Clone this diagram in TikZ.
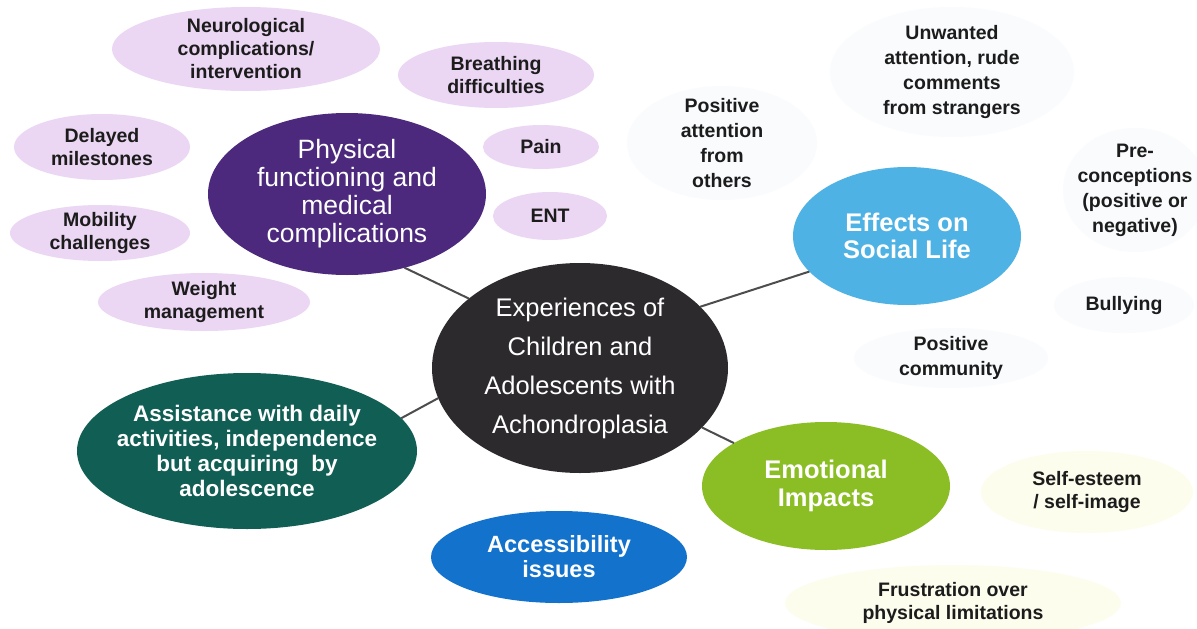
\documentclass[tikz,border=0pt]{standalone}
\usepackage{fontspec}
\setmainfont{Liberation Sans}
\usetikzlibrary{shapes.geometric}

\definecolor{hubgrey}{RGB}{44,42,45}
\definecolor{physpurple}{RGB}{76,41,125}
\definecolor{lavender}{RGB}{235,214,243}
\definecolor{socialsky}{RGB}{79,178,228}
\definecolor{emogreen}{RGB}{139,190,36}
\definecolor{accessblue}{RGB}{18,114,204}
\definecolor{assistteal}{RGB}{16,94,84}
\definecolor{paleblue}{RGB}{249,251,253}
\definecolor{paleyellow}{RGB}{253,253,237}
\definecolor{inkdark}{RGB}{28,28,28}
\definecolor{linkgrey}{RGB}{77,77,77}

\begin{document}
\begin{tikzpicture}[x=1pt,y=-1pt,
  blob/.style={ellipse, inner sep=0pt, outer sep=0pt, draw=none},
  radii/.style 2 args={minimum width=2*#1, minimum height=2*#2},
  lbl/.style={align=center, inner sep=0pt},
  smalltxt/.style={lbl, text=inkdark, font=\fontsize{19.5}{23}\selectfont\bfseries},
  socialtxt/.style={lbl, text=inkdark, font=\fontsize{19.5}{25}\selectfont\bfseries},
  hubtxt/.style={lbl, text=white, font=\fontsize{25.5}{39}\selectfont},
  phystxt/.style={lbl, text=white, font=\fontsize{26.5}{28}\selectfont},
  themetxt/.style={lbl, text=white, font=\fontsize{25.5}{27.5}\selectfont\bfseries},
  accesstxt/.style={lbl, text=white, font=\fontsize{23.5}{25}\selectfont\bfseries},
  assisttxt/.style={lbl, text=white, font=\fontsize{22.5}{25.3}\selectfont\bfseries},
  link/.style={draw=linkgrey, line width=2pt}
]
\useasboundingbox[fill=white] (0,0) rectangle (1197,629);

% pale satellite bubbles around the social theme
\node[blob, fill=paleblue, radii={95}{57}, label={[socialtxt]center:{Positive\\attention\\from\\others}}] (posatt) at (722,143) {};
\node[blob, fill=paleblue, radii={122}{65}, label={[socialtxt]center:{Unwanted\\attention, rude\\comments\\from strangers}}] (unwanted) at (952,72) {};
\node[blob, fill=paleblue, radii={72}{62}, label={[socialtxt]center:{Pre-\\conceptions\\(positive or\\negative)}}] (precon) at (1135,190) {};
\node[blob, fill=paleblue, radii={70}{28}, label={[socialtxt]center:{Bullying}}] (bully) at (1124,305) {};
\node[blob, fill=paleblue, radii={97}{30}, label={[socialtxt]center:{Positive\\community}}] (poscomm) at (951,358) {};

% pale satellite bubbles around the emotional theme
\node[blob, fill=paleyellow, radii={106}{41}, label={[smalltxt]center:{Self-esteem\\/ self-image}}] (selfest) at (1087,492) {};
\node[blob, fill=paleyellow, radii={168}{38}, label={[smalltxt]center:{Frustration over\\physical limitations}}] (frustr) at (953,603) {};

% lavender bubbles around the physical theme
\node[blob, fill=lavender, radii={134}{42}, label={[smalltxt]center:{Neurological\\complications/\\intervention}}] (neuro) at (246,49) {};
\node[blob, fill=lavender, radii={98}{33}, label={[smalltxt]center:{Breathing\\difficulties}}] (breath) at (496,75) {};
\node[blob, fill=lavender, radii={88}{33}, label={[smalltxt]center:{Delayed\\milestones}}] (delayed) at (102,147) {};
\node[blob, fill=lavender, radii={58}{22}, label={[smalltxt]center:{Pain}}] (pain) at (541,147) {};
\node[blob, fill=lavender, radii={57}{24}, label={[smalltxt]center:{ENT}}] (ent) at (550,216) {};
\node[blob, fill=lavender, radii={90}{28}, label={[smalltxt]center:{Mobility\\challenges}}] (mobility) at (100,233) {};
\node[blob, fill=lavender, radii={106}{29}, label={[smalltxt]center:{Weight\\management}}] (weight) at (204,302) {};

% theme bubbles
\node[blob, fill=physpurple, radii={139}{81}, label={[phystxt]center:{Physical\\functioning and\\medical\\complications}}] (phys) at (347,194) {};
\node[blob, fill=socialsky, radii={114}{69}, label={[themetxt]center:{Effects on\\Social Life}}] (social) at (907,236) {};
\node[blob, fill=emogreen, radii={124}{64}, label={[themetxt]center:{Emotional\\Impacts}}] (emotion) at (826,486) {};
\node[blob, fill=accessblue, radii={128}{46}, label={[accesstxt]center:{Accessibility\\issues}}] (access) at (559,557) {};
\node[blob, fill=assistteal, radii={170}{78}, label={[assisttxt]center:{Assistance with daily\\activities, independence\\but acquiring\ \ by\\adolescence}}] (assist) at (247,451) {};

% central hub
\node[blob, fill=hubgrey, radii={148}{105}, label={[hubtxt]center:{Experiences of\\Children and\\Adolescents with\\Achondroplasia}}] (hub) at (580,368) {};

% spokes from the hub to the themes
\draw[link] (phys.-52) -- (hub.148);
\draw[link] (social.-160.6) -- (hub.27.3);
\draw[link] (assist.12.6) -- (hub.192.6);
\draw[link] (emotion.155.7) -- (hub.-26);
\end{tikzpicture}
\end{document}
